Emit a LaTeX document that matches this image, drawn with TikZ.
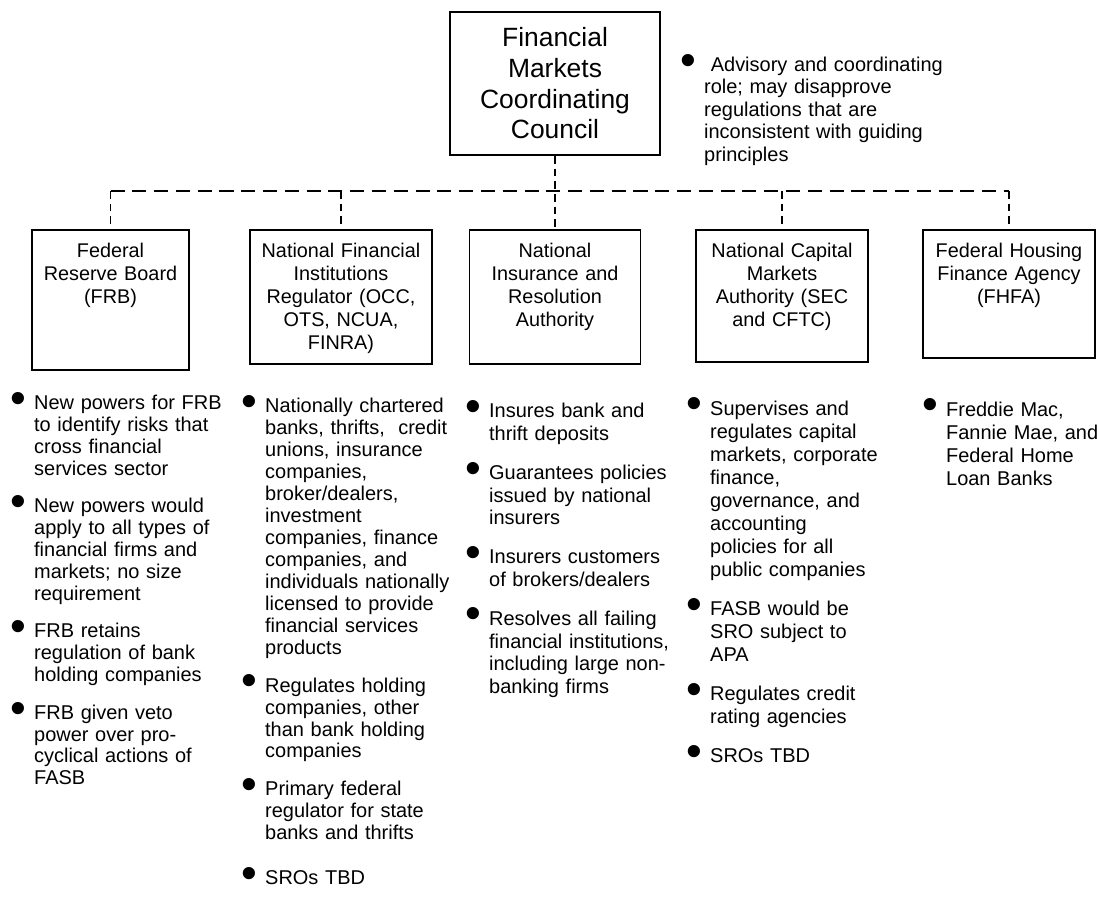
\documentclass[tikz,border=0pt]{standalone}
\usepackage{fontspec}
\setmainfont{Liberation Sans}
\usetikzlibrary{positioning}

\newcommand{\notebullet}{\raisebox{-2.6pt}{\fontsize{32}{32}\selectfont\textbullet}}
\newenvironment{notelist}{%
  \begin{list}{\notebullet}{%
    \setlength{\leftmargin}{17pt}%
    \setlength{\labelsep}{5.8pt}%
    \setlength{\labelwidth}{11.2pt}%
    \setlength{\itemsep}{11.4pt}%
    \setlength{\parsep}{0pt}%
    \setlength{\topsep}{0pt}%
    \setlength{\partopsep}{0pt}}}%
  {\end{list}}

\begin{document}
\begin{tikzpicture}[
  council/.style={draw, line width=1.4pt, align=center, minimum width=5.25cm, minimum height=3.575cm, inner sep=0pt, font=\fontsize{18.8}{21.8}\selectfont},
  agency/.style={draw, line width=1.4pt, anchor=north, inner sep=0pt},
  agencytext/.style={anchor=base, align=center, text width=4.5cm, inner sep=0pt, font=\fontsize{14.1}{16.4}\selectfont},
  notes/.style={anchor=base west, align=left, text width=7cm, inner sep=0pt, font=\fontsize{14.2}{#1}\selectfont},
  bus/.style={line width=0.9pt, dash pattern=on 10pt off 5.5pt},
  drop/.style={line width=0.9pt, dash pattern=on 5.5pt off 3.5pt}
]
\useasboundingbox (0,0) rectangle (27.425,-22.475);

\node[council] (fmcc) at (13.875,-2.0875) {Financial\\Markets\\Coordinating\\Council};
\node[notes=16pt] (fmccnotes) at (17.0,-1.225) {\begin{notelist}
  \item\ Advisory and coordinating\newline role; may disapprove\newline regulations that are\newline inconsistent with guiding\newline principles
\end{notelist}};

% agencies
\node[agency, minimum width=3.925cm, minimum height=3.5cm] (frb) at (2.7625,-5.725) {};
\node[agency, minimum width=4.55cm, minimum height=3.35cm] (nfir) at (8.525,-5.725) {};
\node[agency, minimum width=4.275cm, minimum height=3.35cm] (nira) at (13.875,-5.725) {};
\node[agency, minimum width=4.3cm, minimum height=3.3cm] (ncma) at (19.55,-5.725) {};
\node[agency, minimum width=4.3cm, minimum height=3.2cm] (fhfa) at (25.225,-5.725) {};

\node[agencytext] (frbtext) at ([yshift=-0.7cm]frb.north) {Federal\\Reserve Board\\(FRB)};
\node[agencytext] (nfirtext) at ([yshift=-0.7cm]nfir.north) {National Financial\\Institutions\\Regulator (OCC,\\OTS, NCUA,\\FINRA)};
\node[agencytext] (niratext) at ([yshift=-0.7cm]nira.north) {National\\Insurance and\\Resolution\\Authority};
\node[agencytext] (ncmatext) at ([yshift=-0.7cm]ncma.north) {National Capital\\Markets\\Authority (SEC\\and CFTC)};
\node[agencytext] (fhfatext) at ([yshift=-0.7cm]fhfa.north) {Federal Housing\\Finance Agency\\(FHFA)};

% dashed links
\coordinate (bus) at (0,-4.775);
\draw[drop]  (fmcc.south) -- (nira.north);
\draw[bus]  (frb.north |- bus) -- (fhfa.north |- bus);
\draw[drop]  (frb.north |- bus) -- (frb.north);
\draw[drop]  (nfir.north |- bus) -- (nfir.north);
\draw[drop]  (ncma.north |- bus) -- (ncma.north);
\draw[drop]  (fhfa.north |- bus) -- (fhfa.north);

% duties
\node[notes=15.5pt] (frbnotes) at (0.25,-9.7) {\begin{notelist}
  \item New powers for FRB\newline to identify risks that\newline cross financial\newline services sector
  \item New powers would\newline apply to all types of\newline financial firms and\newline markets; no size\newline requirement
  \item FRB retains\newline regulation of bank\newline holding companies
  \item FRB given veto\newline power over pro-\newline cyclical actions of\newline FASB
\end{notelist}};
\node[notes=15.6pt] (nfirnotes) at (6.025,-9.775) {\begin{notelist}
  \item Nationally chartered\newline banks, thrifts,\ \ credit\newline unions, insurance\newline companies,\newline broker/dealers,\newline investment\newline companies, finance\newline companies, and\newline individuals nationally\newline licensed to provide\newline financial services\newline products
  \item Regulates holding\newline companies, other\newline than bank holding\newline companies
  \item Primary federal\newline regulator for state\newline banks and thrifts
  \setlength{\itemsep}{16.4pt}
  \item SROs TBD
\end{notelist}};
\node[notes=16.2pt] (niranotes) at (11.625,-9.875) {\begin{notelist}
  \item Insures bank and\newline thrift deposits
  \item Guarantees policies\newline issued by national\newline insurers
  \item Insurers customers\newline of brokers/dealers
  \item Resolves all failing\newline financial institutions,\newline including large non-\newline banking firms
\end{notelist}};
\node[notes=16.4pt] (ncmanotes) at (17.15,-9.8) {\begin{notelist}
  \item Supervises and\newline regulates capital\newline markets, corporate\newline finance,\newline governance, and\newline accounting\newline policies for all\newline public companies
  \item FASB would be\newline SRO subject to\newline APA
  \item Regulates credit\newline rating agencies
  \item SROs TBD
\end{notelist}};
\node[notes=16.4pt] (fhfanotes) at (23.05,-9.825) {\begin{notelist}
  \item Freddie Mac,\newline Fannie Mae, and\newline Federal Home\newline Loan Banks
\end{notelist}};
\end{tikzpicture}
\end{document}
